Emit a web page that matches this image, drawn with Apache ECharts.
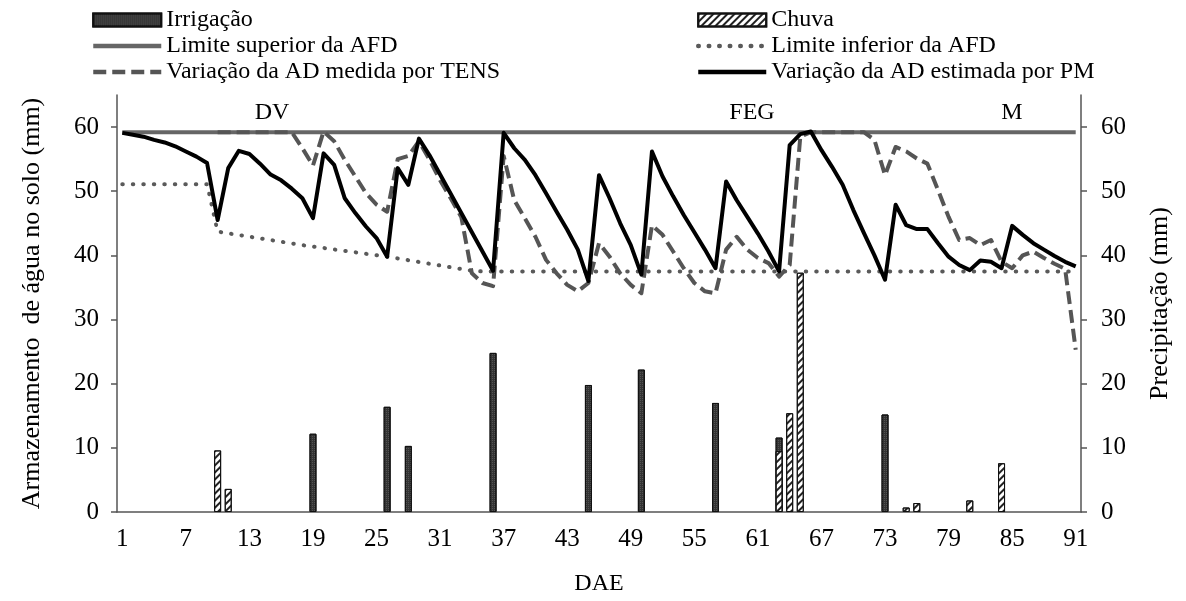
<!DOCTYPE html>
<html>
<head>
<meta charset="utf-8">
<script src="https://cdn.jsdelivr.net/npm/echarts@6/dist/echarts.min.js"></script>
<style>
  html, body { margin: 0; padding: 0; background: #fff; }
  #chart { width: 1186px; height: 601px; }
</style>
</head>
<body>
<div id="chart"></div>
<script>
// 横轴：DAE 1..91
var days = []
for (var d = 1; d <= 91; d++) days.push(String(d))

// 纵轴刻度
var yTicks = [0, 10, 20, 30, 40, 50, 60]

// 灌溉 / 降雨 (mm)
var irrigDays = [19, 26, 28, 36, 45, 50, 57, 63, 73]
var irrigMm = [12.2, 16.4, 10.3, 24.8, 19.8, 22.2, 17.0, 11.6, 15.2]
var chuvaDays = [10, 11, 63, 64, 65, 75, 76, 81, 84]
var chuvaMm = [9.6, 3.6, 9.5, 15.4, 37.3, 0.7, 1.4, 1.8, 7.6]

// AFD 上下限（转折点）
var supDays = [1, 91]
var supVal = [59.2, 59.2]
var infDays = [1, 9, 10, 18, 26, 34, 35, 91]
var infVal = [51.1, 51.1, 43.7, 41.6, 39.8, 37.6, 37.5, 37.5]

// AD estimada por PM (dia 1..91)
var pmAD = [59.1, 58.8, 58.5, 58.0, 57.6, 57.0, 56.2, 55.4, 54.4, 45.5,
  53.6, 56.3, 55.8, 54.3, 52.6, 51.7, 50.4, 48.9, 45.8, 55.9,
  54.1, 48.9, 46.6, 44.5, 42.7, 39.8, 53.6, 51.0, 58.2, 55.6,
  52.6, 49.6, 46.6, 43.6, 40.6, 37.6, 59.1, 56.7, 54.9, 52.5,
  49.7, 46.8, 44.0, 40.9, 36.0, 52.5, 48.9, 45.0, 41.6, 37.0,
  56.2, 52.3, 49.2, 46.3, 43.6, 40.9, 38.0, 51.5, 48.6, 46.0,
  43.4, 40.6, 37.5, 57.2, 58.9, 59.3, 56.4, 53.8, 51.0, 47.1,
  43.5, 40.0, 36.2, 47.9, 44.7, 44.1, 44.1, 41.9, 39.8, 38.5,
  37.7, 39.2, 39.0, 38.0, 44.6, 43.2, 41.9, 40.9, 39.9, 39.0,
  38.3]

// AD medida por TENS (dia 1..91, sem leitura até o dia 9)
var tensAD = [null, null, null, null, null, null, null, null, null, 59.2,
  59.2, 59.2, 59.2, 59.2, 59.2, 59.2, 59.2, 56.7, 54.0, 59.3,
  57.8, 54.9, 52.3, 49.7, 47.9, 46.8, 55.0, 55.5, 57.8, 54.9,
  51.7, 48.9, 46.0, 37.2, 35.7, 35.2, 55.5, 48.6, 45.8, 42.9,
  39.3, 37.2, 35.4, 34.4, 35.7, 41.9, 39.8, 37.2, 35.4, 34.1,
  44.7, 43.2, 40.6, 38.0, 35.7, 34.4, 34.1, 40.9, 42.9, 40.9,
  39.6, 38.8, 36.7, 38.5, 58.5, 59.2, 59.2, 59.2, 59.2, 59.2,
  59.2, 58.0, 52.5, 56.9, 56.2, 55.1, 54.3, 50.2, 46.0, 42.4,
  42.7, 41.6, 42.4, 39.0, 38.0, 40.0, 40.6, 39.6, 38.7, 37.9,
  25.3]

function pairs(xs, ys) {
  return xs.map(function (x, i) { return [String(x), ys[i]] })
}

var font = 'Liberation Serif'
var axisColor = '#555'

function yAxisCfg(name, pos, gap, margin) {
  return {
    type: 'value', min: 0, max: 65, position: pos,
    name: name, nameLocation: 'middle', nameGap: gap, nameRotate: 90,
    nameTextStyle: { fontFamily: font, fontSize: 26, color: '#000' },
    axisLine: { show: true, lineStyle: { color: axisColor, width: 1.5 } },
    axisTick: { show: true, length: 6, customValues: yTicks, lineStyle: { color: axisColor, width: 1.5 } },
    axisLabel: { customValues: yTicks, fontFamily: font, fontSize: 25, color: '#000', margin: margin },
    splitLine: { show: false }
  }
}

// 图例：线条不画圆点
function lineItem(name) {
  return { name: name, itemStyle: { opacity: 0 } }
}

var legendText = { fontFamily: font, fontSize: 24, lineHeight: 24, color: '#000' }
var legendBase = {
  top: 8, orient: 'vertical', padding: 0, itemWidth: 68, itemHeight: 13, itemGap: 2,
  textStyle: legendText, lineStyle: { width: 4.5 }
}

var chart = echarts.init(document.getElementById('chart'))
chart.setOption({
  animation: false,
  textStyle: { fontFamily: font },
  grid: { left: 117, right: 105, top: 95, bottom: 88 },
  legend: [
    Object.assign({}, legendBase, {
      left: 91,
      data: [{ name: 'Irrigação', icon: 'rect' }, lineItem('Limite superior da AFD'), lineItem('Variação da AD medida por TENS')]
    }),
    Object.assign({}, legendBase, {
      left: 696,
      data: [{ name: 'Chuva', icon: 'rect' }, lineItem('Limite inferior da AFD'), lineItem('Variação da AD estimada por PM')]
    })
  ],
  xAxis: {
    type: 'category', data: days, boundaryGap: true,
    name: 'DAE', nameLocation: 'middle', nameGap: 60,
    nameTextStyle: { fontFamily: font, fontSize: 24, color: '#000' },
    axisLine: { lineStyle: { color: axisColor, width: 1.5 } },
    axisTick: { interval: 4, length: 7, lineStyle: { color: axisColor, width: 1.5 } },
    axisLabel: { interval: 5, fontFamily: font, fontSize: 25, color: '#000', margin: 15 }
  },
  yAxis: [
    yAxisCfg('Armazenamento  de água no solo (mm)', 'left', 72, 18),
    yAxisCfg('Precipitação (mm)', 'right', 66, 20)
  ],
  graphic: [
    { type: 'text', x: 272, y: 113, style: { text: 'DV', font: '24px "Liberation Serif"', fill: '#000', align: 'center', verticalAlign: 'middle' } },
    { type: 'text', x: 752, y: 113, style: { text: 'FEG', font: '24px "Liberation Serif"', fill: '#000', align: 'center', verticalAlign: 'middle' } },
    { type: 'text', x: 1012, y: 113, style: { text: 'M', font: '24px "Liberation Serif"', fill: '#000', align: 'center', verticalAlign: 'middle' } }
  ],
  series: [
    {
      name: 'Irrigação', type: 'bar', yAxisIndex: 1, barWidth: 7, barGap: '-100%',
      data: pairs(irrigDays, irrigMm),
      itemStyle: {
        color: '#333', borderColor: '#111', borderWidth: 1,
        decal: { symbol: 'rect', symbolSize: 1, color: 'rgba(255,255,255,0.16)', dashArrayX: [1, 1], dashArrayY: [1, 1] }
      }
    },
    {
      name: 'Chuva', type: 'bar', yAxisIndex: 1, barWidth: 7, barGap: '-100%',
      data: pairs(chuvaDays, chuvaMm),
      itemStyle: {
        color: '#fff', borderColor: '#111', borderWidth: 1,
        decal: { symbol: 'rect', symbolSize: 1, color: '#222', dashArrayX: [1, 0], dashArrayY: [2, 2.5], rotation: -Math.PI / 4 }
      }
    },
    {
      name: 'Limite superior da AFD', type: 'line', symbol: 'none',
      data: pairs(supDays, supVal),
      itemStyle: { color: '#666' },
      lineStyle: { color: '#666', width: 4 }
    },
    {
      name: 'Limite inferior da AFD', type: 'line', symbol: 'none',
      data: pairs(infDays, infVal),
      itemStyle: { color: '#666' },
      lineStyle: { color: '#5a5a5a', width: 4, type: [0.5, 10], cap: 'round' }
    },
    {
      name: 'Variação da AD medida por TENS', type: 'line', symbol: 'none',
      data: tensAD,
      itemStyle: { color: '#555' },
      lineStyle: { color: '#555', width: 4, type: [13, 6], join: 'round' }
    },
    {
      name: 'Variação da AD estimada por PM', type: 'line', symbol: 'none',
      data: pmAD,
      itemStyle: { color: '#000' },
      lineStyle: { color: '#000', width: 4, join: 'round' }
    }
  ]
})

window.addEventListener('resize', function () {
  chart.resize()
})
</script>
</body>
</html>
